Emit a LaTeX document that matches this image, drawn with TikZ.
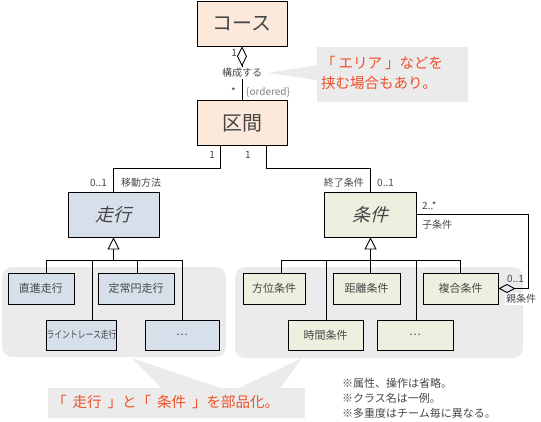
\documentclass[tikz,border=0pt]{standalone}
\usepackage{fontspec}
\setmainfont{Noto Sans CJK JP}
\newfontfamily\jpit[FakeSlant=0.25]{Noto Sans CJK JP}
\usetikzlibrary{arrows.meta}
\definecolor{peach}{RGB}{252,233,219}
\definecolor{bluebox}{RGB}{214,223,234}
\definecolor{greenbox}{RGB}{235,241,222}
\definecolor{grp}{RGB}{235,235,235}
\definecolor{orng}{RGB}{240,80,40}
\definecolor{txt}{RGB}{70,70,70}
\begin{document}
\begin{tikzpicture}[x=1pt,y=-1pt,
  cls/.style={draw=black, line width=0.9pt, minimum height=45pt, inner sep=0pt, text=txt},
  sub/.style={draw=black, line width=0.9pt, minimum height=31pt, inner sep=0pt, font=\fontsize{11}{11}\selectfont, text=txt},
  lbl/.style={font=\fontsize{10}{10}\selectfont, text=txt, inner sep=1pt},
  conn/.style={line width=0.9pt},
  callout/.style={text=orng, align=left, inner sep=0pt, font=\fontsize{14.5}{20}\selectfont}]
\useasboundingbox (0,0) rectangle (541,421);
% groups
\fill[grp, rounded corners=10pt] (2,267) rectangle (226,357);
\fill[grp, rounded corners=10pt] (235,267) rectangle (523,358);
% callouts
\fill[grp] (317,47) rectangle (468,102);
\fill[grp] (268,73) -- (317,65) -- (317,80) -- cycle;
\fill[grp] (48,388) rectangle (305,418);
\fill[grp] (132,358) -- (162,388.5) -- (222,388.5) -- cycle;
\fill[grp] (302,358) -- (238,388.5) -- (280,388.5) -- cycle;
\node[callout, anchor=west] (c1) at (321,73) {「\hspace{3pt}エリア\hspace{3pt}」などを\\挟む場合もあり。};
\node[callout, anchor=west] (c2) at (52,402) {「\hspace{6pt}走行\hspace{6pt}」と「\hspace{6pt}条件\hspace{6pt}」を部品化。};
% classes
\node[cls, fill=peach, minimum width=90pt, font=\fontsize{20}{20}\selectfont] (kosu) at (242,23.5) {コース};
\node[cls, fill=peach, minimum width=90pt, font=\fontsize{20}{20}\selectfont] (kukan) at (242,123) {区間};
\node[cls, fill=bluebox, minimum width=91pt, font=\fontsize{18}{18}\jpit] (soko) at (113.5,214.5) {走行};
\node[cls, fill=greenbox, minimum width=92pt, font=\fontsize{18}{18}\jpit] (joken) at (370.5,214.5) {条件};
% left children
\node[sub, fill=bluebox, minimum width=66pt] (a1) at (41,288.5) {直進走行};
\node[sub, fill=bluebox, minimum width=76pt] (a2) at (136,288.5) {定常円走行};
\node[sub, fill=bluebox, minimum width=57pt, minimum height=30pt, font=\fontsize{10}{10}\selectfont] (a3) at (81.5,335) {\scalebox{0.78}[1]{ライントレース走行}};
\node[sub, fill=bluebox, minimum width=74pt, minimum height=30pt] (a4) at (182,335) {…};
% right children
\node[sub, fill=greenbox, minimum width=62pt] (b1) at (274,288.5) {方位条件};
\node[sub, fill=greenbox, minimum width=67pt] (b2) at (366.5,288.5) {距離条件};
\node[sub, fill=greenbox, minimum width=75pt] (b3) at (460.5,288.5) {複合条件};
\node[sub, fill=greenbox, minimum width=75pt, minimum height=30pt] (b4) at (325.5,335) {時間条件};
\node[sub, fill=greenbox, minimum width=76pt, minimum height=30pt] (b5) at (415,335) {…};
% composition
\draw[conn, {Diamond[open, length=20pt, width=10pt]}-] (kosu.south) -- (kukan.north);
\node[lbl, fill=white] (l1) at (242,73) {構成する};
\node[lbl, anchor=east] (l2) at (238,53) {1};
\node[lbl, anchor=east] (l3) at (237,92) {*};
\node[lbl, anchor=west, text=gray] (l4) at (245,92) {\{ordered\}};
% kukan to soko / joken
\draw[conn] ([xshift=-22pt]kukan.south) -- ++(0,22) -| (soko.north);
\draw[conn] ([xshift=24pt]kukan.south) -- ++(0,22) -| (joken.north);
\node[lbl, anchor=east] (l5) at (216,155) {1};
\node[lbl, anchor=west] (l6) at (244,155) {1};
\node[lbl, anchor=east] (l7) at (108,183) {0..1};
\node[lbl, anchor=west] (l8) at (120,183) {移動方法};
\node[lbl, anchor=east] (l9) at (365,183) {終了条件};
\node[lbl, anchor=west] (l10) at (376,183) {0..1};
% generalization left
\coordinate (gL) at (113.5,260);
\draw[conn, -{Triangle[open, length=12pt, width=12pt]}] (gL) -- (soko.south);
\draw[conn] ([xshift=5pt]a1.north) |- (gL);
\draw[conn] ([xshift=10.5pt]a3.north) |- (gL);
\draw[conn] ([xshift=1pt]a2.north) |- (gL);
\draw[conn] (a4.north) |- (gL);
% generalization right
\coordinate (gR) at (370.5,260);
\draw[conn, -{Triangle[open, length=12pt, width=12pt]}] (gR) -- (joken.south);
\draw[conn] ([xshift=7pt]b1.north) |- (gR);
\draw[conn] ([xshift=0.5pt]b4.north) |- (gR);
\draw[conn] ([xshift=3.5pt]b2.north) |- (gR);
\draw[conn] ([xshift=1pt]b5.north) |- (gR);
\draw[conn] (b3.north) |- (gR);
% self association
\coordinate (cr) at (528,288.5);
\draw[conn, -{Diamond[open, length=17pt, width=9pt]}] (joken.east) -| (cr) -- (b3.east);
\node[lbl, anchor=west] (l11) at (421,206) {2..*};
\node[lbl, anchor=west] (l12) at (421,225) {子条件};
\node[lbl, anchor=west] (l13) at (506,279) {0..1};
\node[lbl, anchor=west, fill=white] (l14) at (505,299) {親条件};
% notes
\node[anchor=west, align=left, inner sep=0pt, text=txt, font=\fontsize{11}{15}\selectfont] (notes) at (342,398) {※属性、操作は省略。\\※クラス名は一例。\\※多重度はチーム毎に異なる。};
\end{tikzpicture}
\end{document}
